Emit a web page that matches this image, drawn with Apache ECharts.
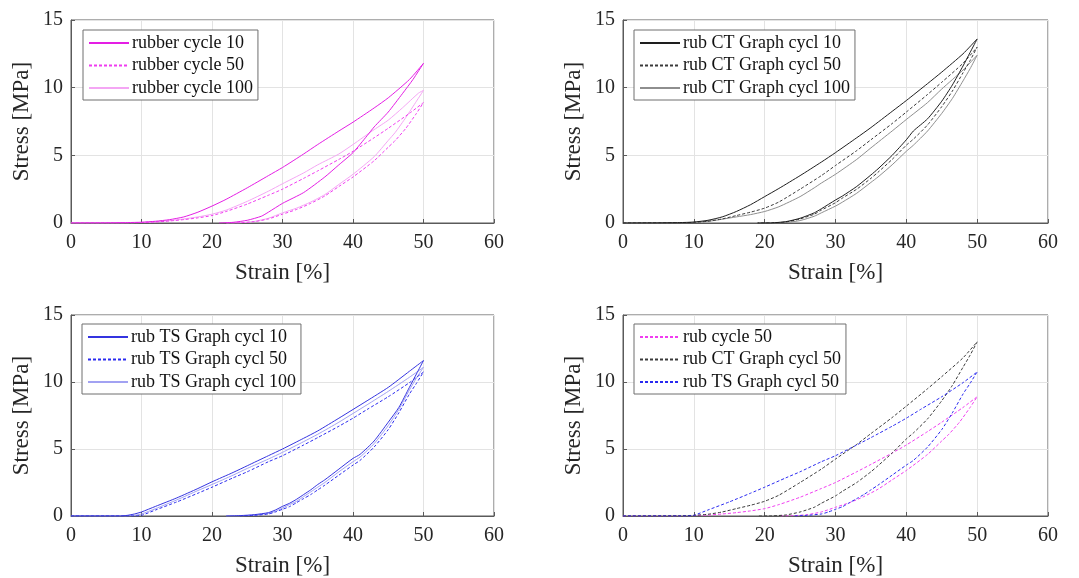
<!DOCTYPE html>
<html>
<head>
<meta charset="utf-8">
<script src="https://cdn.jsdelivr.net/npm/echarts@6/dist/echarts.min.js"></script>
<style>
html,body{margin:0;padding:0;background:#fff;}
#chart{width:1079px;height:578px;}
</style>
</head>
<body>
<div id="chart"></div>
<script>
// ---- tick values ----
var xTicks = [0, 10, 20, 30, 40, 50, 60];
var yTicks = [0, 5, 10, 15];
var xName = 'Strain [%]';
var yName = 'Stress [MPa]';

// ---- rubber (top-left) ----
var rubC10Load = [[0,0],[5,0.01],[8,0.03],[10,0.06],[12,0.13],[14,0.25],[16,0.45],[18,0.8],[20,1.25],[22,1.75],[25,2.6],[28,3.5],[30,4.1],[33,5.1],[35,5.8],[38,6.8],[40,7.45],[43,8.5],[45,9.25],[48,10.6],[50,11.8]];
var rubC10Unload = [[48.5,10.6],[47,9.55],[45,8.2],[43,7.1],[42,6.45],[40,5.2],[38,4.3],[36,3.4],[33,2.25],[30,1.45],[28,0.8],[27,0.5],[25,0.2],[23,0.05],[21,0]];
var rubC50Load = [[0,0],[8,0.01],[10,0.03],[12,0.07],[14,0.15],[16,0.25],[18,0.38],[20,0.55],[22,0.85],[25,1.4],[28,2.05],[30,2.5],[33,3.3],[35,3.85],[38,4.7],[40,5.3],[43,6.3],[45,7.0],[48,8.1],[50,8.9]];
var rubC50Unload = [[49,8.1],[47.5,7.0],[46,6.1],[45,5.6],[43,4.6],[40,3.4],[38,2.7],[36,2.0],[34,1.45],[32,1.0],[30,0.65],[28,0.3],[26,0.1],[24,0.02],[22,0]];
var rubC100Load = [[0,0],[8,0.01],[10,0.04],[12,0.09],[14,0.18],[16,0.3],[18,0.45],[20,0.65],[22,0.95],[25,1.6],[28,2.35],[30,2.9],[33,3.7],[35,4.3],[38,5.1],[40,5.8],[43,6.9],[45,7.6],[47,8.5],[49.3,9.6],[50,9.8]];
var rubC100Unload = [[49,9.0],[47.5,7.8],[46,6.7],[45,6.1],[43,4.9],[40,3.6],[38,2.85],[36,2.1],[34,1.55],[32,1.1],[30,0.75],[28,0.35],[26,0.12],[24,0.02],[22,0]];

// ---- rub CT Graph (top-right) ----
var ctC10Load = [[0,0],[5,0.01],[8,0.03],[10,0.07],[12,0.2],[14,0.45],[16,0.85],[18,1.35],[20,1.95],[22,2.55],[25,3.5],[28,4.5],[30,5.2],[33,6.3],[35,7.05],[38,8.25],[40,9.05],[43,10.3],[45,11.15],[48,12.5],[50,13.6]];
var ctC10Unload = [[49,12.6],[48,11.6],[46.5,10.2],[45,9.0],[43,7.7],[41,6.8],[40,6.15],[38,5.0],[36,4.0],[35,3.55],[33,2.7],[31,2.0],[30,1.7],[28,1.05],[27,0.75],[25,0.35],[23,0.1],[21,0.01],[19,0]];
var ctC50Load = [[0,0],[8,0.02],[10,0.05],[12,0.13],[14,0.3],[16,0.55],[18,0.8],[20,1.1],[22,1.55],[25,2.5],[28,3.5],[30,4.25],[33,5.35],[35,6.15],[38,7.35],[40,8.2],[43,9.5],[45,10.4],[48,11.8],[50,13.0]];
var ctC50Unload = [[49,12.0],[48,11.1],[46.5,9.75],[45,8.6],[43,7.25],[41,6.2],[40,5.75],[38,4.7],[36,3.75],[35,3.3],[33,2.5],[31,1.85],[30,1.5],[28,0.95],[27,0.65],[25,0.3],[23,0.08],[21,0.01],[19,0]];
var ctC100Load = [[0,0],[8,0.02],[10,0.05],[12,0.12],[14,0.28],[16,0.45],[18,0.62],[20,0.85],[22,1.2],[25,1.95],[27,2.6],[28,2.95],[30,3.6],[33,4.7],[35,5.55],[38,6.8],[40,7.65],[43,8.9],[45,9.9],[48,11.3],[50,12.4]];
var ctC100Unload = [[49,11.4],[48,10.5],[46.5,9.2],[45,8.1],[43,6.8],[41,5.75],[40,5.3],[38,4.3],[36,3.4],[35,3.0],[33,2.2],[31,1.55],[30,1.25],[28,0.75],[27,0.5],[25,0.18],[23,0.04],[21,0]];

// ---- rub TS Graph (bottom-left) ----
var tsC10Load = [[0,0],[7,0],[8,0.05],[9,0.15],[10,0.3],[12,0.72],[15,1.35],[18,2.05],[20,2.55],[23,3.25],[25,3.75],[28,4.5],[30,5.0],[33,5.8],[35,6.35],[38,7.3],[40,7.95],[42,8.6],[45,9.6],[48,10.8],[50,11.6]];
var tsC10Unload = [[49,10.6],[48,9.6],[46.5,8.1],[45,7.0],[43,5.6],[41,4.6],[40,4.3],[38,3.5],[36,2.7],[35,2.35],[34,1.95],[33,1.6],[32,1.25],[31,0.95],[30,0.72],[29,0.45],[28,0.25],[26,0.1],[24,0.03],[22,0]];
var tsC50Load = [[0,0],[9,0],[10,0.05],[12,0.45],[15,1.05],[18,1.7],[20,2.15],[23,2.85],[25,3.3],[28,4.05],[30,4.5],[33,5.3],[35,5.85],[38,6.7],[40,7.3],[42,7.95],[45,8.9],[48,9.95],[50,10.75]];
var tsC50Unload = [[49,9.9],[48,9.1],[46.5,7.7],[45,6.45],[43,5.15],[41,4.15],[40,3.8],[38,3.05],[36,2.3],[35,1.95],[34,1.6],[33,1.3],[32,1.0],[31,0.7],[30,0.5],[29,0.3],[28,0.15],[26,0.05],[24,0]];
var tsC100Load = [[0,0],[8,0],[9,0.05],[10,0.15],[12,0.55],[15,1.2],[18,1.9],[20,2.35],[23,3.05],[25,3.55],[28,4.25],[30,4.75],[33,5.55],[35,6.1],[38,7.0],[40,7.65],[42,8.3],[45,9.3],[48,10.35],[50,11.1]];
var tsC100Unload = [[49,10.3],[48,9.4],[46.5,7.95],[45,6.75],[43,5.4],[41,4.4],[40,4.05],[38,3.3],[36,2.5],[35,2.15],[34,1.8],[33,1.45],[32,1.1],[31,0.85],[30,0.6],[29,0.35],[28,0.2],[26,0.07],[24,0.01],[22,0]];

// ---- names ----
var namesTL = ['rubber cycle 10', 'rubber cycle 50', 'rubber cycle 100'];
var namesTR = ['rub CT Graph cycl 10', 'rub CT Graph cycl 50', 'rub CT Graph cycl 100'];
var namesBL = ['rub TS Graph cycl 10', 'rub TS Graph cycl 50', 'rub TS Graph cycl 100'];
var namesBR = ['rub cycle 50', 'rub CT Graph cycl 50', 'rub TS Graph cycl 50'];

var FONT = '"Liberation Serif", "DejaVu Serif", serif';
var grids = [
  {left: 71, top: 20, width: 423, height: 203},
  {left: 623, top: 20, width: 425, height: 203},
  {left: 71, top: 315, width: 423, height: 203},
  {left: 623, top: 315, width: 425, height: 203}
];

var cMag10 = '#e41ee4', cMag50 = '#f03cf0', cMag100 = '#f4a6f4';
var cBlk10 = '#1e1e1e', cBlk50 = '#3a3a3a', cBlk100 = '#8e8e8e';
var cBlu10 = '#3434e0', cBlu50 = '#2a2af0', cBlu100 = '#a2a2f2';

function loop(a, b) { return a.concat(b); }

function xAx(i) {
  return {
    type: 'value', gridIndex: i,
    min: xTicks[0], max: xTicks[xTicks.length - 1], interval: xTicks[1] - xTicks[0],
    name: xName, nameLocation: 'middle', nameGap: 38,
    nameTextStyle: {fontFamily: FONT, fontSize: 23, color: '#262626'},
    axisLine: {show: true, lineStyle: {color: '#5a5a5a', width: 1}},
    axisTick: {show: true, inside: true, length: 4, lineStyle: {color: '#5a5a5a'}},
    axisLabel: {fontFamily: FONT, fontSize: 20, color: '#262626', margin: 10},
    splitLine: {show: true, lineStyle: {color: '#e3e3e3', width: 1}}
  };
}
function yAx(i) {
  return {
    type: 'value', gridIndex: i,
    min: yTicks[0], max: yTicks[yTicks.length - 1], interval: yTicks[1] - yTicks[0],
    name: yName, nameLocation: 'middle', nameGap: 38,
    nameTextStyle: {fontFamily: FONT, fontSize: 23, color: '#262626'},
    axisLine: {show: true, lineStyle: {color: '#5a5a5a', width: 1}},
    axisTick: {show: true, inside: true, length: 4, lineStyle: {color: '#5a5a5a'}},
    axisLabel: {fontFamily: FONT, fontSize: 20, color: '#262626', margin: 8},
    splitLine: {show: true, lineStyle: {color: '#e3e3e3', width: 1}}
  };
}
function ser(name, gi, data, color, dashed) {
  return {
    type: 'line', name: name, xAxisIndex: gi, yAxisIndex: gi,
    data: data, symbol: 'none', smooth: 0.2, silent: true,
    lineStyle: {color: color, width: 1, type: dashed ? [3, 2] : 'solid'},
    itemStyle: {color: color}
  };
}
function leg(names, left, top) {
  return {
    data: names, orient: 'vertical', left: left, top: top,
    itemWidth: 40, itemHeight: 14, itemGap: 2.5,
    padding: [3, 5, 2, 5],
    backgroundColor: '#fff', borderColor: '#6e6e6e', borderWidth: 1,
    itemStyle: {opacity: 0},
    textStyle: {fontFamily: FONT, fontSize: 18, color: '#111', lineHeight: 20, padding: [0, 0, 0, -2]},
    selectedMode: false
  };
}

var option = {
  animation: false,
  backgroundColor: '#ffffff',
  grid: grids.map(function (g) {
    return {left: g.left, top: g.top, width: g.width, height: g.height, show: true,
      borderColor: '#5a5a5a', borderWidth: 1, backgroundColor: 'transparent'};
  }),
  xAxis: [xAx(0), xAx(1), xAx(2), xAx(3)],
  yAxis: [yAx(0), yAx(1), yAx(2), yAx(3)],
  legend: [
    leg(namesTL, 83, 30),
    leg(namesTR, 634, 30),
    leg(namesBL, 82, 324),
    leg(namesBR, 634, 324)
  ],
  series: [
    ser(namesTL[2], 0, loop(rubC100Load, rubC100Unload), cMag100, false),
    ser(namesTL[1], 0, loop(rubC50Load, rubC50Unload), cMag50, true),
    ser(namesTL[0], 0, loop(rubC10Load, rubC10Unload), cMag10, false),

    ser(namesTR[2], 1, loop(ctC100Load, ctC100Unload), cBlk100, false),
    ser(namesTR[1], 1, loop(ctC50Load, ctC50Unload), cBlk50, true),
    ser(namesTR[0], 1, loop(ctC10Load, ctC10Unload), cBlk10, false),

    ser(namesBL[2], 2, loop(tsC100Load, tsC100Unload), cBlu100, false),
    ser(namesBL[1], 2, loop(tsC50Load, tsC50Unload), cBlu50, true),
    ser(namesBL[0], 2, loop(tsC10Load, tsC10Unload), cBlu10, false),

    ser(namesBR[0], 3, loop(rubC50Load, rubC50Unload), cMag50, true),
    ser(namesBR[1], 3, loop(ctC50Load, ctC50Unload), cBlk50, true),
    ser(namesBR[2], 3, loop(tsC50Load, tsC50Unload), cBlu50, true)
  ]
};

var chart = echarts.init(document.getElementById('chart'), null, {renderer: 'canvas'});
chart.setOption(option);
</script>
</body>
</html>
